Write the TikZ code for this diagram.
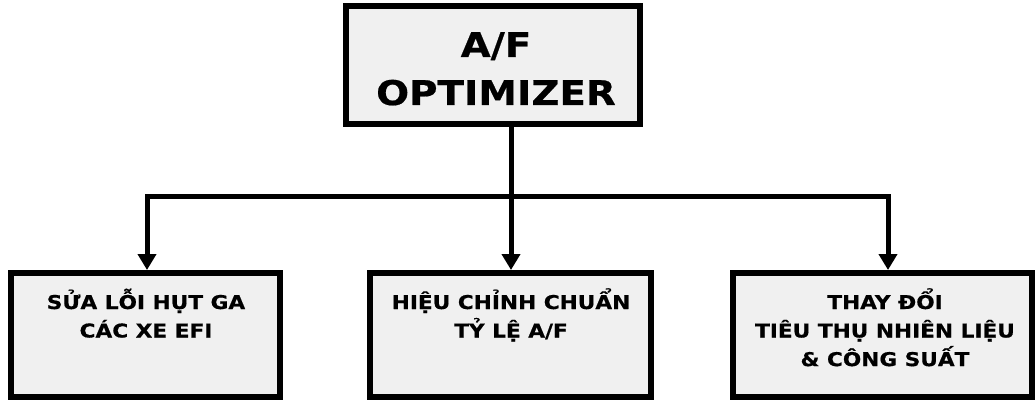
\documentclass[tikz,border=0pt]{standalone}
\usepackage{fontspec}
\setmainfont{DejaVu Sans}
\newfontfamily\wideb[FakeStretch=1.14,FakeBold=0.6]{DejaVu Sans Bold}
\usetikzlibrary{arrows.meta}
\definecolor{boxfill}{RGB}{240,240,240}
\tikzset{
  boxnode/.style={draw=black, fill=boxfill, line width=6pt, rectangle, inner sep=0pt},
  txt/.style={anchor=base, inner sep=0pt, font=\wideb},
  conn/.style={draw=black, line width=5pt},
  arr/.style={conn, -{Triangle[width=18pt,length=16pt]}}
}
\begin{document}
\begin{tikzpicture}[x=1pt,y=-1pt]
\useasboundingbox (0,0) rectangle (1036,401);
% boxes
\node[boxnode, minimum width=294pt, minimum height=118pt] (top) at (493,65) {};
\node[boxnode, minimum width=269pt, minimum height=124pt] (b1) at (145.5,335) {};
\node[boxnode, minimum width=281pt, minimum height=124pt] (b2) at (510.5,335) {};
\node[boxnode, minimum width=299pt, minimum height=124pt] (b3) at (882.5,335) {};
% texts
\node[txt] (ttop) at (496,57) {\fontsize{34}{48}\selectfont\begin{tabular}[t]{@{}c@{}}A/F\\OPTIMIZER\end{tabular}};
\node[txt] (t1) at (146,309) {\fontsize{19}{28.5}\selectfont\begin{tabular}[t]{@{}c@{}}SỬA LỖI HỤT GA\\CÁC XE EFI\end{tabular}};
\node[txt] (t2) at (511,309) {\fontsize{19}{28.5}\selectfont\begin{tabular}[t]{@{}c@{}}HIỆU CHỈNH CHUẨN\\TỶ LỆ A/F\end{tabular}};
\node[txt] (t3) at (885,309) {\fontsize{19}{28.5}\selectfont\begin{tabular}[t]{@{}c@{}}THAY ĐỔI\\TIÊU THỤ NHIÊN LIỆU\\\& CÔNG SUẤT\end{tabular}};
% connectors
\coordinate (jm) at (511,196);
\coordinate (jl) at (147,196);
\coordinate (jr) at (888,196);
\draw[conn] (top.south -| jm) -- (jm);
\draw[conn, line cap=rect] (jl) -- (jr);
\draw[arr] (jl) -- (b1.north -| jl);
\draw[arr] (jm) -- (b2.north -| jm);
\draw[arr] (jr) -- (b3.north -| jr);
\end{tikzpicture}
\end{document}
